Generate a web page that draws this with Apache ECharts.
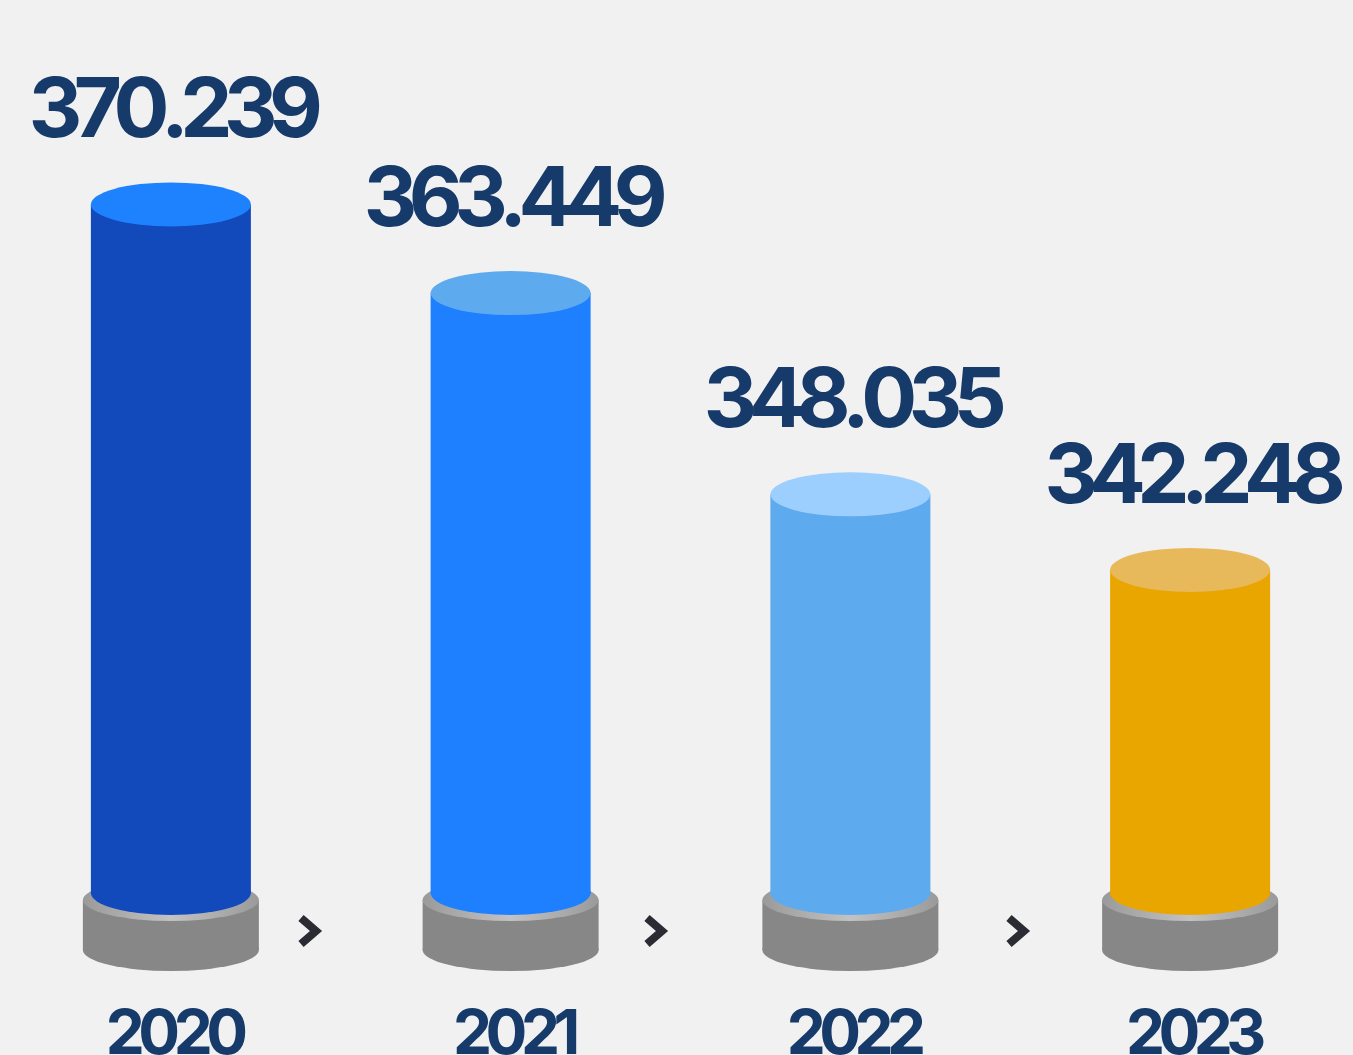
<!DOCTYPE html>
<html>
<head>
<meta charset="utf-8">
<script src="https://cdn.jsdelivr.net/npm/echarts@6/dist/echarts.min.js"></script>
<style>
html,body{margin:0;padding:0;background:#f1f1f1;overflow:hidden;}
#c{width:1360px;height:1055px;}
</style>
</head>
<body>
<div id="c"></div>
<script>
const years = ['2020', '2021', '2022', '2023'];
const values = [370.239, 363.449, 348.035, 342.248];
const valueLabels = ['370.239', '363.449', '348.035', '342.248'];
const bodyColors = ['#1249bb', '#1e80ff', '#5eaaee', '#e9a500'];
const topColors = ['#1e82ff', '#5eaaee', '#9dcffe', '#e8b95a'];

const chart = echarts.init(document.getElementById('c'));
const RX = 80, RY = 22;
const PRX = 88, PRY = 21;
const NAVY = '#163a6a';
const VALUE_FONT = 'bold 83px Inter';
const YEAR_FONT = 'bold 62px Inter';

const mctx = document.createElement('canvas').getContext('2d');
function trackedText(str, font, spacing, cx, cy, z2) {
  mctx.font = font;
  const ws = str.split('').map(ch => mctx.measureText(ch).width);
  const total = ws.reduce((a, b) => a + b, 0) + spacing * (str.length - 1);
  let x = cx - total / 2;
  return str.split('').map((ch, k) => {
    const el = {type: 'text', z2: z2, x: x, y: cy,
      style: {text: ch, font: font, fill: NAVY, align: 'left', verticalAlign: 'middle'}};
    x += ws[k] + spacing;
    return el;
  });
}

function ell(cx, cy, rx, ry, fill, z2) {
  return {type: 'circle', x: cx, y: cy, scaleY: ry / rx, z2: z2,
          shape: {cx: 0, cy: 0, r: rx}, style: {fill: fill}};
}

function renderItem(params, api) {
  const i = api.value(0);
  const top = api.coord([i, api.value(1)]);
  const base = api.coord([i, 317.5]);
  const cx = top[0];
  const ty = top[1];
  const by = base[1];
  const pedTop = by + 7;
  const pedBot = by + 57;
  const rim = new echarts.graphic.LinearGradient(0, 0, 1, 0, [
    {offset: 0, color: '#9a9a9a'}, {offset: 0.5, color: '#c2c2c2'}, {offset: 1, color: '#9a9a9a'}]);
  const children = [
    ell(cx, pedBot, PRX, PRY, '#878787', 1),
    {type: 'rect', z2: 2, shape: {x: cx - PRX, y: pedTop, width: PRX * 2, height: pedBot - pedTop}, style: {fill: '#878787'}},
    ell(cx, pedTop, PRX, PRY, rim, 3),
    ell(cx, by, RX, RY, bodyColors[i], 4),
    {type: 'rect', z2: 5, shape: {x: cx - RX, y: ty, width: RX * 2, height: by - ty}, style: {fill: bodyColors[i]}},
    ell(cx, ty, RX, RY, topColors[i], 6)
  ];
  return {
    type: 'group',
    children: children
      .concat(trackedText(valueLabels[i], VALUE_FONT, -8.5, cx + 5, ty - RY - 70, 7))
      .concat(trackedText(years[i], YEAR_FONT, -6.5, cx + 6, 1035, 7))
  };
}

function chevron(x) {
  return {type: 'polyline', z: 10, shape: {points: [[x - 8, 918], [x + 7, 931], [x - 8, 944]]},
          style: {stroke: '#2b2b33', lineWidth: 8, fill: null, lineJoin: 'miter', lineCap: 'butt'}};
}

chart.setOption({
  backgroundColor: '#f1f1f1',
  animation: false,
  grid: {left: 1, right: 0, top: 77, bottom: 162},
  xAxis: {type: 'category', data: years, show: false},
  yAxis: {type: 'value', min: 317.5, max: 380, show: false},
  graphic: [chevron(309), chevron(655), chevron(1017)],
  series: [{
    type: 'custom',
    renderItem: renderItem,
    data: values.map((v, i) => [i, v]),
    clip: false
  }]
});
</script>
</body>
</html>
